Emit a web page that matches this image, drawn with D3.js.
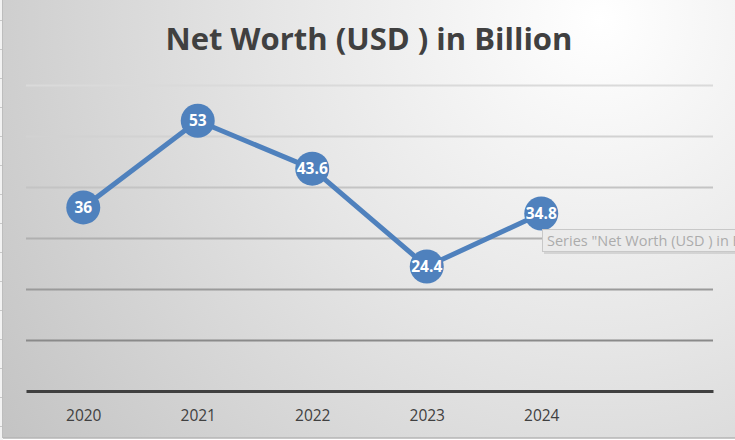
<!DOCTYPE html>
<html><head><meta charset="utf-8">
<script src="https://cdn.jsdelivr.net/npm/d3@7"></script>
<style>html,body{margin:0;padding:0;background:#fff;overflow:hidden}</style>
</head><body>
<script>
const categories = ["2020","2021","2022","2023","2024",""];
const years = ["2020","2021","2022","2023","2024"];
const netWorth = [36, 53, 43.6, 24.4, 34.8];
const yTicks = [10,20,30,40,50,60];
const title = "Net Worth (USD ) in Billion";
const tooltipText = "Series \"Net Worth (USD ) in B";

const W = 735, H = 440;
const svg = d3.select("body").append("svg").attr("width", W).attr("height", H);
const defs = svg.append("defs");
const rg = defs.append("radialGradient").attr("id","bg")
  .attr("gradientUnits","userSpaceOnUse").attr("cx",600).attr("cy",20).attr("r",720);
rg.append("stop").attr("offset","0%").attr("stop-color","#ffffff");
rg.append("stop").attr("offset","45%").attr("stop-color","#e6e6e6");
rg.append("stop").attr("offset","100%").attr("stop-color","#c4c4c4");
defs.append("clipPath").attr("id","clipR").append("rect").attr("x",0).attr("y",0).attr("width",W).attr("height",H);

// spreadsheet strip on left
svg.append("rect").attr("x",0).attr("y",0).attr("width",3).attr("height",H).attr("fill","#f2f2f2");
d3.range(20, H, 29).forEach(yy=>{
  svg.append("line").attr("x1",0).attr("x2",3).attr("y1",yy+0.5).attr("y2",yy+0.5).attr("stroke","#c8c8c8");
});
svg.append("rect").attr("x",3).attr("y",0).attr("width",W-3).attr("height",438).attr("fill","url(#bg)");
svg.append("line").attr("x1",2.5).attr("x2",2.5).attr("y1",0).attr("y2",438).attr("stroke","#bdbdbd");
svg.append("line").attr("x1",3).attr("x2",W).attr("y1",438).attr("y2",438).attr("stroke","#b5b5b5").attr("stroke-width",1.5);

const x = d3.scalePoint().domain(categories).range([26,713]).padding(0.5);
const y = d3.scaleLinear().domain([0,60]).range([391,85]);

const gridColors = ["#8a8a8a","#9a9a9a","#b0b0b0","#c4c4c4","#d2d2d2","#dadada"];
const grid = svg.append("g");
grid.selectAll("line").data(yTicks).join("line")
  .attr("x1",26).attr("x2",713)
  .attr("y1",d=>Math.round(y(d))+0.5).attr("y2",d=>Math.round(y(d))+0.5)
  .attr("stroke",(d,i)=>gridColors[i]).attr("stroke-width",2);

const xAxis = svg.append("g").attr("transform",`translate(0,${y(0)})`)
  .call(d3.axisBottom(x).tickSize(0).tickPadding(19));
xAxis.select(".domain").attr("stroke","#404040").attr("stroke-width",3);
xAxis.selectAll("text").attr("font-family","'Open Sans', sans-serif").attr("font-size",15.5).attr("fill","#404040");

svg.append("text").attr("x",369).attr("y",50).attr("text-anchor","middle")
  .attr("font-family","'Open Sans', sans-serif").attr("font-weight","bold").attr("font-size",31)
  .attr("fill","#404040").text(title);

const line = d3.line().x((d,i)=>x(years[i])).y(d=>y(d));
svg.append("path").datum(netWorth).attr("d",line).attr("fill","none")
  .attr("stroke","#4f81bd").attr("stroke-width",5).attr("stroke-linejoin","round");

const pts = svg.append("g").selectAll("g").data(netWorth).join("g")
  .attr("transform",(d,i)=>`translate(${x(years[i])},${y(d)})`);
pts.append("circle").attr("r",17).attr("fill","#4f81bd");
pts.append("text").attr("text-anchor","middle").attr("dy","0.36em")
  .attr("font-family","'Open Sans', sans-serif").attr("font-weight","bold").attr("font-size",15.5)
  .attr("fill","#ffffff").text(d=>d);

// tooltip
const tt = svg.append("g").attr("transform","translate(542,229)").attr("clip-path","url(#clipR)");
tt.append("rect").attr("x",2).attr("y",2).attr("width",200).attr("height",23).attr("fill","#000").attr("opacity",0.10);
tt.append("rect").attr("x",0.5).attr("y",0.5).attr("width",200).attr("height",22).attr("fill","#ebebeb").attr("stroke","#c8c8c8");
tt.append("text").attr("x",5).attr("y",17).attr("font-family","'Open Sans', sans-serif").attr("font-size",14.5)
  .attr("fill","#ababab").text(tooltipText);
</script>
</body></html>
